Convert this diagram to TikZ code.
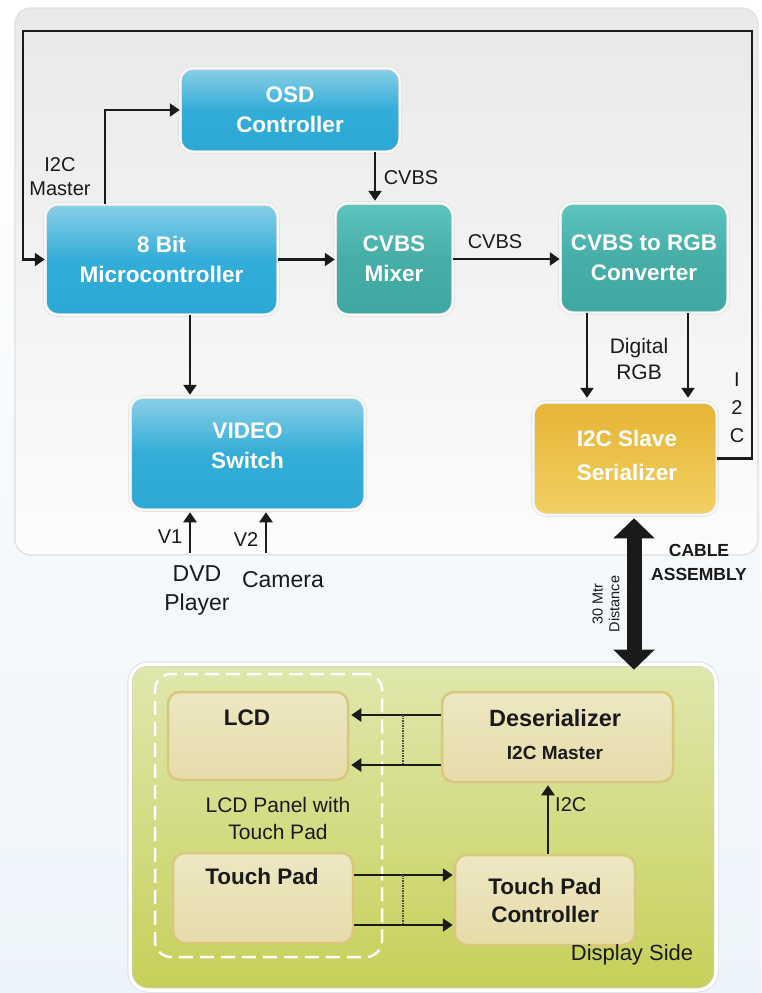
\documentclass[tikz,border=0pt]{standalone}
\usepackage{fontspec}
\setmainfont{Liberation Sans}
\usetikzlibrary{arrows.meta,calc}
\definecolor{bluetop}{HTML}{8BCFE7}
\definecolor{bluemid}{HTML}{33ADD8}
\definecolor{bluebot}{HTML}{2BA8D6}
\definecolor{tealtop}{HTML}{5EC5BE}
\definecolor{tealmid}{HTML}{46AEA7}
\definecolor{tealbot}{HTML}{3FA8A2}
\definecolor{yeltop}{HTML}{E5B535}
\definecolor{yelmid}{HTML}{ECC24C}
\definecolor{yelbot}{HTML}{F2D064}
\definecolor{beigetop}{HTML}{EDE7C3}
\definecolor{beigebot}{HTML}{E6DCA9}
\definecolor{beigeline}{HTML}{D8C87E}
\definecolor{greentop}{HTML}{E0E7AE}
\definecolor{greenbot}{HTML}{C6D058}
\definecolor{graytop}{HTML}{E8E9E9}
\definecolor{graybot}{HTML}{FCFCFC}
\definecolor{bgblue}{HTML}{EDF4F9}
\definecolor{ink}{HTML}{1A1A1A}
\begin{document}
\begin{tikzpicture}[x=1pt,y=-1pt,
  arr/.style={line width=2.7pt,draw=ink,-{Triangle[length=10pt,width=13pt]}},
  bigarr/.style={line width=15pt,draw=ink,{Triangle[length=20pt,width=40pt]}-{Triangle[length=20pt,width=40pt]}},
  dotline/.style={line width=1.5pt,draw=black!70,densely dotted},
  lbl/.style={font=\fontsize{20}{24}\selectfont,text=ink,inner sep=0pt,align=center},
  blk/.style={rounded corners=13pt,draw=black!14,double=white!97!black,double distance=2.5pt,line width=0.5pt},
  bluebox/.style={blk,top color=bluetop,bottom color=bluebot,middle color=bluemid},
  tealbox/.style={blk,top color=tealtop,bottom color=tealbot,middle color=tealmid},
  yelbox/.style={blk,top color=yeltop,bottom color=yelbot,middle color=yelmid},
  beigebox/.style={rounded corners=12pt,draw=beigeline,line width=2.5pt,top color=beigetop,bottom color=beigebot},
  wtxt/.style={text=white,font=\bfseries\fontsize{22.5}{30}\selectfont,align=center,inner sep=0pt},
  btxt/.style={text=ink,font=\bfseries\fontsize{22.5}{28}\selectfont,align=center,inner sep=0pt},
]
\useasboundingbox (0,0) rectangle (761,993);
\shade[top color=white,bottom color=bgblue] (0,0) rectangle (761,993);

% upper panel
\node[rounded corners=16pt,draw=black!12,line width=1.2pt,top color=graytop,bottom color=graybot,
      minimum width=743pt,minimum height=547pt,inner sep=0pt] (upper) at (386.5,281.5) {};

% boxes
\node[bluebox,wtxt,minimum width=220pt,minimum height=84pt] (osd) at (290,110) {OSD\\Controller};
\node[bluebox,wtxt,minimum width=233pt,minimum height=111pt] (mc) at (161.5,259.5) {8 Bit\\Microcontroller};
\node[tealbox,wtxt,minimum width=118pt,minimum height=112pt] (mix) at (394,259) {CVBS\\Mixer};
\node[tealbox,wtxt,minimum width=168pt,minimum height=110pt] (conv) at (644,258) {CVBS to RGB\\Converter};
\node[bluebox,minimum width=235pt,minimum height=113pt] (vsw) at (247.5,453.5) {};
\node[wtxt] (vswt) at (247.5,446) {VIDEO\\Switch};
\node[yelbox,wtxt,minimum width=184pt,minimum height=113pt] (ser) at (625,458.5) {};
\node[wtxt,font=\bfseries\fontsize{22.5}{34}\selectfont] (sert) at (627,455) {I2C Slave\\Serializer};

% coordinates
\coordinate (tr) at (752,31);
\coordinate (tl) at (23,31);
\coordinate (c1) at (105,0);
\coordinate (c2) at (375,0);
\coordinate (c3) at (190,0);
\coordinate (v1) at (190,553);
\coordinate (v2) at (266,553);
\coordinate (r1) at (587,0);
\coordinate (r2) at (688,0);
\coordinate (ca) at (634,0);

% connectors upper
\draw[arr] (ser.east) -| (tr) -| (tl) |- (mc.west);
\draw[arr] (mc.north -| c1) |- (osd.west);
\draw[arr] (osd.south -| c2) -- ($(mix.north -| c2)+(0,-2)$);
\draw[arr] (mc.east) -- (mc.east -| mix.west);
\draw[arr] (mix.east) -- (mix.east -| conv.west);
\draw[arr] (mc.south -| c3) -- ($(vsw.north -| c3)+(0,-2)$);
\draw[arr] (v1) -- ($(v1 |- vsw.south)+(0,2)$);
\draw[arr] (v2) -- ($(v2 |- vsw.south)+(0,2)$);
\draw[arr] (conv.south -| r1) -- ($(ser.north -| r1)+(0,-4)$);
\draw[arr] (conv.south -| r2) -- ($(ser.north -| r2)+(0,-4)$);

% labels upper
\node[lbl] (lm) at (60,177) {I2C\\Master};
\node[lbl] (lc1) at (411,178) {CVBS};
\node[lbl] (lc2) at (495,242) {CVBS};
\node[lbl,font=\fontsize{21}{26}\selectfont] (ldr) at (639,359) {Digital\\RGB};
\node[lbl,font=\fontsize{20}{28}\selectfont] (li2c) at (737,408) {I\\2\\C};
\node[lbl] (lv1) at (170,537) {V1};
\node[lbl] (lv2) at (246,540) {V2};
\node[lbl,font=\fontsize{23}{29}\selectfont] (ldvd) at (197,590) {DVD\\Player};
\node[lbl,font=\fontsize{23}{29}\selectfont] (lcam) at (283,580) {Camera};
\node[lbl,font=\bfseries\fontsize{17.5}{24}\selectfont] (lcab) at (699,562) {CABLE\\ASSEMBLY};
\node[lbl,font=\fontsize{14.5}{17}\selectfont,rotate=90] (ldist) at (606,604) {30 Mtr\\Distance};

% lower panel
\node[rounded corners=18pt,draw=black!18,double=white,double distance=3.5pt,line width=0.6pt,
      top color=greentop,bottom color=greenbot,minimum width=586pt,minimum height=326pt,inner sep=0pt] (panel) at (423,827) {};
\node[rounded corners=16pt,draw=white,line width=2.5pt,dash pattern=on 14pt off 7pt,
      minimum width=227pt,minimum height=283pt,inner sep=0pt] (dash) at (268.5,815.5) {};

% big cable arrow
\draw[bigarr] ($(ser.south -| ca)+(0,3)$) -- ($(panel.north -| ca)+(0,6)$);

% lower boxes
\node[beigebox,minimum width=180pt,minimum height=88pt] (lcd) at (258,736) {};
\node[btxt] (lcdt) at (247,718) {LCD};
\node[beigebox,minimum width=180pt,minimum height=90pt] (tp) at (263,898) {};
\node[btxt] (tpt) at (262,876) {Touch Pad};
\node[beigebox,minimum width=231pt,minimum height=90pt] (des) at (557.5,737) {};
\node[btxt,font=\bfseries\fontsize{23.5}{28}\selectfont] (dest) at (555,718) {Deserializer};
\node[btxt,font=\bfseries\fontsize{19}{24}\selectfont] (desm) at (555,753) {I2C Master};
\node[beigebox,btxt,minimum width=180pt,minimum height=90pt] (tpc) at (545,900) {Touch Pad\\Controller};

% lower connectors
\coordinate (ya) at (0,715);
\coordinate (yb) at (0,765);
\coordinate (yc) at (0,875);
\coordinate (yd) at (0,925);
\coordinate (xi) at (548,0);
\coordinate (d1) at (403,715);
\coordinate (d2) at (403,765);
\coordinate (d3) at (403,875);
\coordinate (d4) at (403,925);
\draw[arr] (des.west |- ya) -- ($(lcd.east |- ya)+(2,0)$);
\draw[arr] (des.west |- yb) -- ($(lcd.east |- yb)+(2,0)$);
\draw[arr] (tp.east |- yc) -- ($(tpc.west |- yc)+(-1,0)$);
\draw[arr] (tp.east |- yd) -- ($(tpc.west |- yd)+(-1,0)$);
\draw[dotline] (d1) -- (d2);
\draw[dotline] (d3) -- (d4);
\draw[arr] (tpc.north -| xi) -- ($(des.south -| xi)+(0,2)$);

% lower labels
\node[lbl,anchor=west] (li2c2) at (555,805) {I2C};
\node[lbl,font=\fontsize{21}{27}\selectfont] (lpanel) at (278,818) {LCD Panel with\\Touch Pad};
\node[lbl,font=\fontsize{22}{26}\selectfont] (ldisp) at (632,955) {Display Side};
\end{tikzpicture}
\end{document}
